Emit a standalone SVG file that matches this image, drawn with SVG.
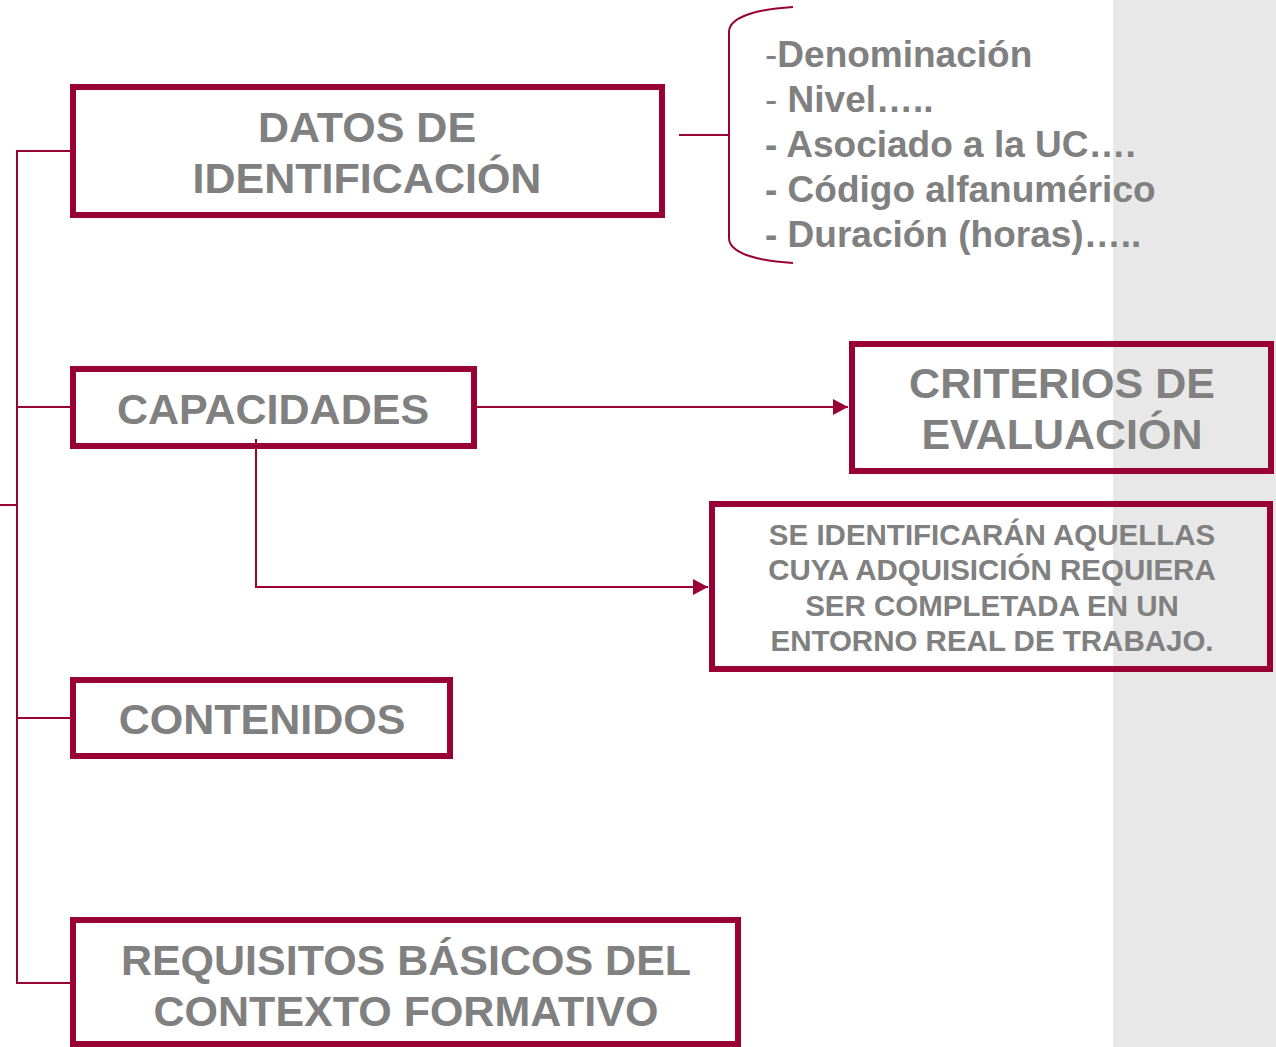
<svg xmlns="http://www.w3.org/2000/svg" width="1276" height="1047" viewBox="0 0 1276 1047">
<style>
.box{fill:none;stroke:#990033;stroke-width:6}
.ln{fill:none;stroke:#990033;stroke-width:2}
.t{font-family:"Liberation Sans",Arial,sans-serif;font-weight:bold;fill:#808080;text-anchor:middle}
.big{font-size:43px}
.mid{font-size:29.5px}
.lst{font-family:"Liberation Sans",Arial,sans-serif;font-weight:bold;fill:#808080;font-size:37px}
.thin{font-weight:normal}
</style>
<defs>
<marker id="ah" markerWidth="15" markerHeight="16" refX="15" refY="8" orient="auto" markerUnits="userSpaceOnUse">
<path d="M0,0 L15,8 L0,16 Z" fill="#990033"/>
</marker>
</defs>
<rect x="1113" y="0" width="163" height="1047" fill="#e8e8e8"/>
<g id="connectors">
<line class="ln" x1="17" y1="150" x2="17" y2="984"/>
<line class="ln" x1="0" y1="505" x2="17" y2="505"/>
<line class="ln" x1="16" y1="151" x2="70" y2="151"/>
<line class="ln" x1="16" y1="407" x2="70" y2="407"/>
<line class="ln" x1="16" y1="718" x2="70" y2="718"/>
<line class="ln" x1="16" y1="983" x2="70" y2="983"/>
<line class="ln" x1="477" y1="407" x2="848" y2="407" marker-end="url(#ah)"/>
<polyline class="ln" points="256,439 256,587 708,587" marker-end="url(#ah)"/>
<line class="ln" x1="679" y1="135" x2="729" y2="135"/>
<path class="ln" d="M793,7 C760,9 729,16 729,32 L729,238 C729,254 760,261 793,263"/>
</g>
<g id="datos">
<rect class="box" x="73" y="87" width="589" height="128"/>
<text class="t big" x="367" y="142">DATOS DE</text>
<text class="t big" x="367" y="193">IDENTIFICACIÓN</text>
</g>
<g id="lista">
<text class="lst" x="765" y="67"><tspan class="thin">-</tspan>Denominación</text>
<text class="lst" x="765" y="112"><tspan class="thin">-</tspan> Nivel…..</text>
<text class="lst" x="765" y="157">- Asociado a la UC….</text>
<text class="lst" x="765" y="202">- Código alfanumérico</text>
<text class="lst" x="765" y="247">- Duración (horas)…..</text>
</g>
<g id="capacidades">
<rect class="box" x="73" y="369" width="401" height="77"/>
<text class="t big" x="273" y="424">CAPACIDADES</text>
</g>
<g id="criterios">
<rect class="box" x="852" y="344" width="419" height="127"/>
<text class="t big" x="1062" y="398">CRITERIOS DE</text>
<text class="t big" x="1062" y="449">EVALUACIÓN</text>
</g>
<g id="identificaran">
<rect class="box" x="712" y="504" width="558" height="165"/>
<text class="t mid" x="992" y="545">SE IDENTIFICARÁN AQUELLAS</text>
<text class="t mid" x="992" y="580">CUYA ADQUISICIÓN REQUIERA</text>
<text class="t mid" x="992" y="616">SER COMPLETADA EN UN</text>
<text class="t mid" x="992" y="651">ENTORNO REAL DE TRABAJO.</text>
</g>
<g id="contenidos">
<rect class="box" x="73" y="680" width="377" height="76"/>
<text class="t big" x="262" y="734">CONTENIDOS</text>
</g>
<g id="requisitos">
<rect class="box" x="73" y="920" width="665" height="124"/>
<text class="t big" x="406" y="975">REQUISITOS BÁSICOS DEL</text>
<text class="t big" x="406" y="1026">CONTEXTO FORMATIVO</text>
</g>
</svg>
